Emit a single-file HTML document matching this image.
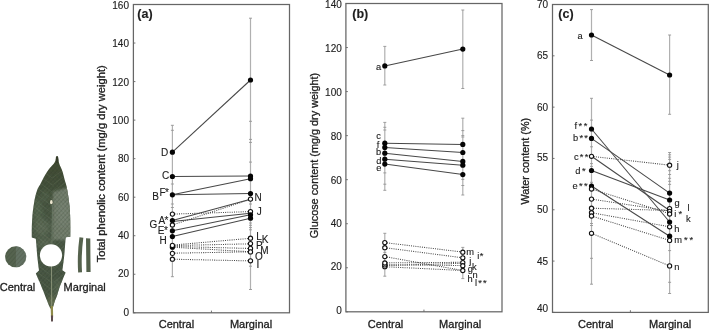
<!DOCTYPE html>
<html><head><meta charset="utf-8"><title>Leaf phenolic, glucose and water content</title>
<style>
html,body{margin:0;padding:0;background:#fff;}
body{width:709px;height:330px;overflow:hidden;position:relative;}
svg{position:absolute;left:0;top:0;display:block;will-change:transform;}
text{font-family:"Liberation Sans", sans-serif;fill:#202020;stroke:#202020;stroke-width:0.12px;}
.ttl{stroke-width:0.3px;}
</style></head><body>
<svg width="709" height="330" viewBox="0 0 709 330" xmlns="http://www.w3.org/2000/svg">
<defs><linearGradient id="lg2" x1="0" y1="0" x2="0" y2="1"><stop offset="0" stop-color="#404930"/><stop offset="0.2" stop-color="#45523c"/><stop offset="0.45" stop-color="#4c5a47"/><stop offset="1" stop-color="#475543"/></linearGradient><pattern id="vein" width="3" height="3" patternUnits="userSpaceOnUse" patternTransform="rotate(42)"><line x1="0.5" y1="0" x2="0.5" y2="3" stroke="#25301f" stroke-width="0.6" stroke-opacity="0.28"/></pattern><pattern id="vein2" width="3" height="3" patternUnits="userSpaceOnUse" patternTransform="rotate(-42)"><line x1="0.5" y1="0" x2="0.5" y2="3" stroke="#25301f" stroke-width="0.6" stroke-opacity="0.2"/></pattern><filter id="bl" x="-50%" y="-50%" width="200%" height="200%"><feGaussianBlur stdDeviation="2.5"/></filter><filter id="bls" x="-50%" y="-50%" width="200%" height="200%"><feGaussianBlur stdDeviation="1.2"/></filter><filter id="bl1" x="-5%" y="-5%" width="110%" height="110%"><feGaussianBlur stdDeviation="0.3"/></filter><clipPath id="leafclip"><path d="M31.8,237.6 C31.80,236.00 31.70,231.60 31.80,228.00 C31.90,224.40 32.10,219.67 32.40,216.00 C32.70,212.33 33.10,209.33 33.60,206.00 C34.10,202.67 34.70,198.92 35.40,196.00 C36.10,193.08 36.95,190.50 37.80,188.50 C38.65,186.50 39.82,185.23 40.50,184.00 C41.18,182.77 41.25,182.38 41.90,181.10 C42.55,179.82 43.50,177.92 44.40,176.30 C45.30,174.68 46.17,173.02 47.30,171.40 C48.43,169.78 49.98,168.10 51.20,166.60 C52.42,165.10 53.87,163.50 54.60,162.40 C55.33,161.30 55.43,160.40 55.60,160.00 L56.2,156.6 C56.6,155.8 57.6,155.8 57.9,156.6 L58.6,160 C58.65,160.40 58.60,161.30 58.90,162.40 C59.20,163.50 59.80,165.10 60.40,166.60 C61.00,168.10 61.93,169.78 62.50,171.40 C63.07,173.02 63.38,174.68 63.80,176.30 C64.22,177.92 64.55,179.48 65.00,181.10 C65.45,182.72 65.98,183.68 66.50,186.00 C67.02,188.32 67.62,191.83 68.10,195.00 C68.58,198.17 69.07,201.67 69.40,205.00 C69.73,208.33 69.95,211.50 70.10,215.00 C70.25,218.50 70.27,222.38 70.30,226.00 C70.33,229.62 70.30,234.92 70.30,236.70 L65.6,237.3 C65.2,244 64.8,250 64.4,254 C63.8,260 63.0,266 62.4,270.2 L65.6,272.4 C65.00,273.88 63.05,278.70 62.00,281.30 C60.95,283.90 60.08,285.77 59.30,288.00 C58.52,290.23 58.05,292.48 57.30,294.70 C56.55,296.92 55.47,299.38 54.80,301.30 C54.13,303.22 53.65,305.00 53.30,306.20 C52.95,307.40 52.80,308.12 52.70,308.50 L50.5,308.5 C50.30,308.12 49.83,307.40 49.30,306.20 C48.77,305.00 48.07,303.22 47.30,301.30 C46.53,299.38 45.58,296.92 44.70,294.70 C43.82,292.48 42.90,290.23 42.00,288.00 C41.10,285.77 40.33,283.73 39.30,281.30 C38.27,278.87 36.38,274.72 35.80,273.40 L39.0,270.6 C38.3,265 37.4,258 36.9,252 C36.6,247 36.2,242 35.8,238.8 Z"/></clipPath></defs>
<g filter="url(#bl1)">
<path d="M31.8,237.6 C31.80,236.00 31.70,231.60 31.80,228.00 C31.90,224.40 32.10,219.67 32.40,216.00 C32.70,212.33 33.10,209.33 33.60,206.00 C34.10,202.67 34.70,198.92 35.40,196.00 C36.10,193.08 36.95,190.50 37.80,188.50 C38.65,186.50 39.82,185.23 40.50,184.00 C41.18,182.77 41.25,182.38 41.90,181.10 C42.55,179.82 43.50,177.92 44.40,176.30 C45.30,174.68 46.17,173.02 47.30,171.40 C48.43,169.78 49.98,168.10 51.20,166.60 C52.42,165.10 53.87,163.50 54.60,162.40 C55.33,161.30 55.43,160.40 55.60,160.00 L56.2,156.6 C56.6,155.8 57.6,155.8 57.9,156.6 L58.6,160 C58.65,160.40 58.60,161.30 58.90,162.40 C59.20,163.50 59.80,165.10 60.40,166.60 C61.00,168.10 61.93,169.78 62.50,171.40 C63.07,173.02 63.38,174.68 63.80,176.30 C64.22,177.92 64.55,179.48 65.00,181.10 C65.45,182.72 65.98,183.68 66.50,186.00 C67.02,188.32 67.62,191.83 68.10,195.00 C68.58,198.17 69.07,201.67 69.40,205.00 C69.73,208.33 69.95,211.50 70.10,215.00 C70.25,218.50 70.27,222.38 70.30,226.00 C70.33,229.62 70.30,234.92 70.30,236.70 L65.6,237.3 C65.2,244 64.8,250 64.4,254 C63.8,260 63.0,266 62.4,270.2 L65.6,272.4 C65.00,273.88 63.05,278.70 62.00,281.30 C60.95,283.90 60.08,285.77 59.30,288.00 C58.52,290.23 58.05,292.48 57.30,294.70 C56.55,296.92 55.47,299.38 54.80,301.30 C54.13,303.22 53.65,305.00 53.30,306.20 C52.95,307.40 52.80,308.12 52.70,308.50 L50.5,308.5 C50.30,308.12 49.83,307.40 49.30,306.20 C48.77,305.00 48.07,303.22 47.30,301.30 C46.53,299.38 45.58,296.92 44.70,294.70 C43.82,292.48 42.90,290.23 42.00,288.00 C41.10,285.77 40.33,283.73 39.30,281.30 C38.27,278.87 36.38,274.72 35.80,273.40 L39.0,270.6 C38.3,265 37.4,258 36.9,252 C36.6,247 36.2,242 35.8,238.8 Z" fill="url(#lg2)"/>
<g clip-path="url(#leafclip)">
<path d="M52.8,192 L72,186 L72,240 L52.3,240 Z" fill="#737e6d" filter="url(#bls)"/>
<ellipse cx="63" cy="214" rx="6" ry="13" fill="#7c8678" opacity="0.6" filter="url(#bl)"/>
<ellipse cx="38" cy="212" rx="4" ry="14" fill="#5f7158" opacity="0.7" filter="url(#bl)"/>
<ellipse cx="42" cy="228" rx="8" ry="9" fill="#66735f" opacity="0.7" filter="url(#bl)"/>
<ellipse cx="45" cy="196" rx="4" ry="6" fill="#5a6b53" opacity="0.6" filter="url(#bl)"/>
<ellipse cx="45" cy="243" rx="9" ry="5" fill="#66735f" opacity="0.7" filter="url(#bl)"/>
<ellipse cx="58" cy="288" rx="5" ry="10" fill="#5b6a55" opacity="0.8" filter="url(#bl)"/>
<ellipse cx="52" cy="302" rx="4" ry="6" fill="#77805a" opacity="0.8" filter="url(#bl)"/>
<rect x="25" y="150" width="60" height="170" fill="url(#vein)"/>
<rect x="25" y="150" width="60" height="170" fill="url(#vein2)"/>
<path d="M52.3,178 L30,162 M52.3,178 L74,162 M52.3,185 L30,169 M52.3,185 L74,169 M52.3,192 L30,176 M52.3,192 L74,176 M52.3,199 L30,183 M52.3,199 L74,183 M52.3,206 L30,190 M52.3,206 L74,190 M52.3,213 L30,197 M52.3,213 L74,197 M52.3,220 L30,204 M52.3,220 L74,204 M52.3,227 L30,211 M52.3,227 L74,211 M52.3,234 L30,218 M52.3,234 L74,218 M52.3,241 L30,225 M52.3,241 L74,225 M52.3,248 L30,232 M52.3,248 L74,232 M52.3,255 L30,239 M52.3,255 L74,239 M52.3,262 L30,246 M52.3,262 L74,246 M52.3,269 L30,253 M52.3,269 L74,253 M52.3,276 L30,260 M52.3,276 L74,260 M52.3,283 L30,267 M52.3,283 L74,267 M52.3,290 L30,274 M52.3,290 L74,274 M52.3,297 L30,281 M52.3,297 L74,281" stroke="#8a9782" stroke-width="0.55" opacity="0.3" fill="none"/>
</g>
<line x1="51.5" y1="266" x2="51.7" y2="307" stroke="#8e977c" stroke-width="0.9"/>
<line x1="52.6" y1="205" x2="51.9" y2="244" stroke="#6f7c69" stroke-width="0.8" opacity="0.8"/>
<path d="M56.0,163 L55.9,157.5 C56.2,156.2 57.8,156.2 58.1,157.5 L58.2,163 Z" fill="#353b2c"/>
<ellipse cx="51.3" cy="202.2" rx="1.3" ry="2.1" fill="#ece6cf"/>
<circle cx="51.0" cy="255.3" r="11.1" fill="#ffffff"/>
<path d="M50.6,306 L52.9,306 L53.1,314 L52.9,321 L51.1,321 L50.9,314 Z" fill="#8f8b4c"/>
<path d="M50.9,315.5 L53.1,315.5 L52.9,321.5 L51.1,321.5 Z" fill="#5b4b4d"/>
<circle cx="15.6" cy="256.8" r="10.5" fill="#55634f"/>
<path d="M15.9,246.3 A10.5,10.5 0 0 1 15.9,267.3 Z" fill="#6a776a" opacity="0.75"/>
<circle cx="15.6" cy="256.8" r="10.5" fill="url(#vein)"/>
<path d="M81.4,237.5 Q79.0,255 80.1,272.4" stroke="#55624d" stroke-width="3.9" fill="none"/>
<path d="M86.0,238.3 L90.3,238.5 L90.4,255 L90.6,272.0 L86.4,272.0 L86.2,255 Z" fill="#52604b"/>
</g>
<text x="-0.2" y="290.7" font-size="11" class="ttl">Central</text>
<text x="63.62" y="290.5" font-size="11" class="ttl">Marginal</text>
<rect x="133.4" y="4.5" width="156.1" height="308.3" fill="none" stroke="#666666" stroke-width="1.25"/>
<line x1="133.4" y1="312.8" x2="135.4" y2="312.8" stroke="#666666" stroke-width="0.9"/>
<text x="129.0" y="315.75" font-size="10" text-anchor="end">0</text>
<line x1="133.4" y1="274.26" x2="135.4" y2="274.26" stroke="#666666" stroke-width="0.9"/>
<text x="129.0" y="277.4" font-size="10" text-anchor="end">20</text>
<line x1="133.4" y1="235.73" x2="135.4" y2="235.73" stroke="#666666" stroke-width="0.9"/>
<text x="129.0" y="239.1" font-size="10" text-anchor="end">40</text>
<line x1="133.4" y1="197.19" x2="135.4" y2="197.19" stroke="#666666" stroke-width="0.9"/>
<text x="129.0" y="200.7" font-size="10" text-anchor="end">60</text>
<line x1="133.4" y1="158.65" x2="135.4" y2="158.65" stroke="#666666" stroke-width="0.9"/>
<text x="129.0" y="162.2" font-size="10" text-anchor="end">80</text>
<line x1="133.4" y1="120.11" x2="135.4" y2="120.11" stroke="#666666" stroke-width="0.9"/>
<text x="129.0" y="124.0" font-size="10" text-anchor="end">100</text>
<line x1="133.4" y1="81.58" x2="135.4" y2="81.58" stroke="#666666" stroke-width="0.9"/>
<text x="129.0" y="85.5" font-size="10" text-anchor="end">120</text>
<line x1="133.4" y1="43.04" x2="135.4" y2="43.04" stroke="#666666" stroke-width="0.9"/>
<text x="129.0" y="46.7" font-size="10" text-anchor="end">140</text>
<line x1="133.4" y1="4.5" x2="135.4" y2="4.5" stroke="#666666" stroke-width="0.9"/>
<text x="129.0" y="9.1" font-size="10" text-anchor="end">160</text>
<line x1="211.45" y1="312.8" x2="211.45" y2="310.6" stroke="#666666" stroke-width="0.9"/>
<rect x="345.9" y="3.5" width="156.1" height="308.3" fill="none" stroke="#666666" stroke-width="1.25"/>
<line x1="345.9" y1="311.8" x2="347.9" y2="311.8" stroke="#666666" stroke-width="0.9"/>
<text x="341.8" y="314.0" font-size="10" text-anchor="end">0</text>
<line x1="345.9" y1="267.76" x2="347.9" y2="267.76" stroke="#666666" stroke-width="0.9"/>
<text x="341.8" y="270.3" font-size="10" text-anchor="end">20</text>
<line x1="345.9" y1="223.71" x2="347.9" y2="223.71" stroke="#666666" stroke-width="0.9"/>
<text x="341.8" y="226.9" font-size="10" text-anchor="end">40</text>
<line x1="345.9" y1="179.67" x2="347.9" y2="179.67" stroke="#666666" stroke-width="0.9"/>
<text x="341.8" y="183.6" font-size="10" text-anchor="end">60</text>
<line x1="345.9" y1="135.63" x2="347.9" y2="135.63" stroke="#666666" stroke-width="0.9"/>
<text x="341.8" y="139.7" font-size="10" text-anchor="end">80</text>
<line x1="345.9" y1="91.59" x2="347.9" y2="91.59" stroke="#666666" stroke-width="0.9"/>
<text x="341.8" y="95.7" font-size="10" text-anchor="end">100</text>
<line x1="345.9" y1="47.54" x2="347.9" y2="47.54" stroke="#666666" stroke-width="0.9"/>
<text x="341.8" y="51.8" font-size="10" text-anchor="end">120</text>
<line x1="345.9" y1="3.5" x2="347.9" y2="3.5" stroke="#666666" stroke-width="0.9"/>
<text x="341.8" y="7.5" font-size="10" text-anchor="end">140</text>
<line x1="423.95" y1="311.8" x2="423.95" y2="309.6" stroke="#666666" stroke-width="0.9"/>
<rect x="552.5" y="4.5" width="155.8" height="307.9" fill="none" stroke="#666666" stroke-width="1.25"/>
<line x1="552.5" y1="312.4" x2="554.5" y2="312.4" stroke="#666666" stroke-width="0.9"/>
<text x="548.1" y="311.9" font-size="10" text-anchor="end">40</text>
<line x1="552.5" y1="261.08" x2="554.5" y2="261.08" stroke="#666666" stroke-width="0.9"/>
<text x="548.1" y="264.9" font-size="10" text-anchor="end">45</text>
<line x1="552.5" y1="209.77" x2="554.5" y2="209.77" stroke="#666666" stroke-width="0.9"/>
<text x="548.1" y="213.1" font-size="10" text-anchor="end">50</text>
<line x1="552.5" y1="158.45" x2="554.5" y2="158.45" stroke="#666666" stroke-width="0.9"/>
<text x="548.1" y="161.1" font-size="10" text-anchor="end">55</text>
<line x1="552.5" y1="107.13" x2="554.5" y2="107.13" stroke="#666666" stroke-width="0.9"/>
<text x="548.1" y="110.5" font-size="10" text-anchor="end">60</text>
<line x1="552.5" y1="55.82" x2="554.5" y2="55.82" stroke="#666666" stroke-width="0.9"/>
<text x="548.1" y="59.3" font-size="10" text-anchor="end">65</text>
<line x1="552.5" y1="4.5" x2="554.5" y2="4.5" stroke="#666666" stroke-width="0.9"/>
<text x="548.1" y="7.9" font-size="10" text-anchor="end">70</text>
<line x1="630.4" y1="312.4" x2="630.4" y2="310.2" stroke="#666666" stroke-width="0.9"/>
<line x1="172.4" y1="125.3" x2="172.4" y2="276.7" stroke="#b0b0b0" stroke-width="1.2"/>
<line x1="170.9" y1="125.3" x2="173.9" y2="125.3" stroke="#959595" stroke-width="0.9"/>
<line x1="170.9" y1="276.7" x2="173.9" y2="276.7" stroke="#959595" stroke-width="0.9"/>
<line x1="170.9" y1="130.3" x2="173.9" y2="130.3" stroke="#959595" stroke-width="0.9"/>
<line x1="170.9" y1="184.0" x2="173.9" y2="184.0" stroke="#959595" stroke-width="0.9"/>
<line x1="170.9" y1="204.0" x2="173.9" y2="204.0" stroke="#959595" stroke-width="0.9"/>
<line x1="170.9" y1="207.5" x2="173.9" y2="207.5" stroke="#959595" stroke-width="0.9"/>
<line x1="250.5" y1="18.2" x2="250.5" y2="289.5" stroke="#b0b0b0" stroke-width="1.2"/>
<line x1="249.0" y1="18.2" x2="252.0" y2="18.2" stroke="#959595" stroke-width="0.9"/>
<line x1="249.0" y1="289.5" x2="252.0" y2="289.5" stroke="#959595" stroke-width="0.9"/>
<line x1="249.0" y1="121.3" x2="252.0" y2="121.3" stroke="#959595" stroke-width="0.9"/>
<line x1="249.0" y1="139.4" x2="252.0" y2="139.4" stroke="#959595" stroke-width="0.9"/>
<line x1="249.0" y1="142.4" x2="252.0" y2="142.4" stroke="#959595" stroke-width="0.9"/>
<line x1="249.0" y1="162.1" x2="252.0" y2="162.1" stroke="#959595" stroke-width="0.9"/>
<line x1="249.0" y1="204.0" x2="252.0" y2="204.0" stroke="#959595" stroke-width="0.9"/>
<line x1="249.0" y1="219.2" x2="252.0" y2="219.2" stroke="#959595" stroke-width="0.9"/>
<line x1="249.0" y1="223.0" x2="252.0" y2="223.0" stroke="#959595" stroke-width="0.9"/>
<line x1="249.0" y1="225.3" x2="252.0" y2="225.3" stroke="#959595" stroke-width="0.9"/>
<line x1="249.0" y1="227.6" x2="252.0" y2="227.6" stroke="#959595" stroke-width="0.9"/>
<line x1="249.0" y1="229.8" x2="252.0" y2="229.8" stroke="#959595" stroke-width="0.9"/>
<line x1="249.0" y1="266.2" x2="252.0" y2="266.2" stroke="#959595" stroke-width="0.9"/>
<line x1="172.4" y1="152.2" x2="250.5" y2="80.0" stroke="#474747" stroke-width="1.05"/>
<line x1="172.4" y1="176.5" x2="250.5" y2="176.0" stroke="#474747" stroke-width="1.05"/>
<line x1="172.4" y1="194.8" x2="250.5" y2="178.7" stroke="#474747" stroke-width="1.05"/>
<line x1="172.4" y1="194.8" x2="250.5" y2="193.6" stroke="#474747" stroke-width="1.05"/>
<line x1="172.4" y1="214.1" x2="250.5" y2="211.6" stroke="#474747" stroke-width="1.05" stroke-dasharray="1 1.2"/>
<line x1="172.4" y1="220.5" x2="250.5" y2="199.3" stroke="#474747" stroke-width="1.05"/>
<line x1="172.4" y1="221.6" x2="250.5" y2="213.2" stroke="#474747" stroke-width="1.05"/>
<line x1="172.4" y1="225.0" x2="250.5" y2="199.3" stroke="#474747" stroke-width="1.05" stroke-dasharray="1 1.2"/>
<line x1="172.4" y1="230.8" x2="250.5" y2="214.8" stroke="#474747" stroke-width="1.05"/>
<line x1="172.4" y1="236.6" x2="250.5" y2="218.3" stroke="#474747" stroke-width="1.05"/>
<line x1="172.4" y1="245.1" x2="250.5" y2="238.3" stroke="#474747" stroke-width="1.05" stroke-dasharray="1 1.2"/>
<line x1="172.4" y1="245.6" x2="250.5" y2="243.8" stroke="#474747" stroke-width="1.05" stroke-dasharray="1 1.2"/>
<line x1="172.4" y1="246.4" x2="250.5" y2="248.5" stroke="#474747" stroke-width="1.05" stroke-dasharray="1 1.2"/>
<line x1="172.4" y1="247.2" x2="250.5" y2="251.8" stroke="#474747" stroke-width="1.05" stroke-dasharray="1 1.2"/>
<line x1="172.4" y1="253.2" x2="250.5" y2="251.8" stroke="#474747" stroke-width="1.05" stroke-dasharray="1 1.2"/>
<line x1="172.4" y1="259.2" x2="250.5" y2="260.9" stroke="#474747" stroke-width="1.05" stroke-dasharray="1 1.2"/>
<circle cx="172.4" cy="152.2" r="2.6" fill="#050505"/>
<circle cx="172.4" cy="176.5" r="2.6" fill="#050505"/>
<circle cx="172.4" cy="194.8" r="2.6" fill="#050505"/>
<circle cx="172.4" cy="214.1" r="2.1" fill="#fff" stroke="#111" stroke-width="1.1"/>
<circle cx="172.4" cy="220.5" r="2.6" fill="#050505"/>
<circle cx="172.4" cy="225.0" r="2.1" fill="#fff" stroke="#111" stroke-width="1.1"/>
<circle cx="172.4" cy="230.8" r="2.6" fill="#050505"/>
<circle cx="172.4" cy="236.6" r="2.6" fill="#050505"/>
<circle cx="172.4" cy="247.2" r="2.6" fill="#050505"/>
<circle cx="172.4" cy="245.4" r="2.1" fill="#fff" stroke="#111" stroke-width="1.1"/>
<circle cx="172.4" cy="253.4" r="2.1" fill="#fff" stroke="#111" stroke-width="1.1"/>
<circle cx="172.4" cy="259.2" r="2.1" fill="#fff" stroke="#111" stroke-width="1.1"/>
<circle cx="250.5" cy="80.0" r="2.6" fill="#050505"/>
<circle cx="250.5" cy="176.0" r="2.6" fill="#050505"/>
<circle cx="250.5" cy="178.7" r="2.6" fill="#050505"/>
<circle cx="250.5" cy="193.6" r="2.6" fill="#050505"/>
<circle cx="250.5" cy="199.1" r="2.1" fill="#fff" stroke="#111" stroke-width="1.1"/>
<circle cx="250.5" cy="211.6" r="2.1" fill="#fff" stroke="#111" stroke-width="1.1"/>
<circle cx="250.5" cy="214.8" r="2.6" fill="#050505"/>
<circle cx="250.5" cy="218.2" r="2.6" fill="#050505"/>
<circle cx="250.5" cy="238.2" r="2.1" fill="#fff" stroke="#111" stroke-width="1.1"/>
<circle cx="250.5" cy="243.6" r="2.1" fill="#fff" stroke="#111" stroke-width="1.1"/>
<circle cx="250.5" cy="248.4" r="2.1" fill="#fff" stroke="#111" stroke-width="1.1"/>
<circle cx="250.5" cy="251.9" r="2.1" fill="#fff" stroke="#111" stroke-width="1.1"/>
<circle cx="250.5" cy="260.8" r="2.1" fill="#fff" stroke="#111" stroke-width="1.1"/>
<text x="161.12" y="155.7" font-size="10">D</text>
<text x="161.9" y="179.1" font-size="10">C</text>
<text x="159.62" y="196.0" font-size="10" letter-spacing="-0.78">F*</text>
<text x="152.32" y="200.0" font-size="10">B</text>
<text x="158.6" y="223.6" font-size="10" letter-spacing="-0.67">A*</text>
<text x="149.5" y="228.2" font-size="10">G</text>
<text x="157.72" y="234.2" font-size="10" letter-spacing="-0.4">E*</text>
<text x="159.62" y="243.7" font-size="10">H</text>
<text x="254.62" y="201.0" font-size="10">N</text>
<text x="256.75" y="214.5" font-size="10">J</text>
<text x="256.23" y="239.7" font-size="10">L</text>
<text x="261.82" y="243.1" font-size="10">K</text>
<text x="255.93" y="249.4" font-size="10">P</text>
<text x="260.23" y="253.6" font-size="10">M</text>
<text x="255.1" y="260.0" font-size="10">O</text>
<text x="256.62" y="267.6" font-size="10">I</text>
<text x="137.28" y="18.05" font-size="12.5" font-weight="bold">(a)</text>
<text class="ttl" transform="translate(105.0,262.3) rotate(-90)" font-size="11" textLength="197" lengthAdjust="spacingAndGlyphs">Total phenolic content (mg/g dry weight)</text>
<text x="158.7" y="327.8" font-size="11" class="ttl">Central</text>
<text x="229.93" y="327.6" font-size="11" class="ttl">Marginal</text>
<line x1="384.8" y1="46.4" x2="384.8" y2="85.0" stroke="#b0b0b0" stroke-width="1.2"/>
<line x1="383.3" y1="46.4" x2="386.3" y2="46.4" stroke="#959595" stroke-width="0.9"/>
<line x1="383.3" y1="85.0" x2="386.3" y2="85.0" stroke="#959595" stroke-width="0.9"/>
<line x1="462.8" y1="10.0" x2="462.8" y2="88.5" stroke="#b0b0b0" stroke-width="1.2"/>
<line x1="461.3" y1="10.0" x2="464.3" y2="10.0" stroke="#959595" stroke-width="0.9"/>
<line x1="461.3" y1="88.5" x2="464.3" y2="88.5" stroke="#959595" stroke-width="0.9"/>
<line x1="384.8" y1="122.4" x2="384.8" y2="190.3" stroke="#b0b0b0" stroke-width="1.2"/>
<line x1="383.3" y1="122.4" x2="386.3" y2="122.4" stroke="#959595" stroke-width="0.9"/>
<line x1="383.3" y1="190.3" x2="386.3" y2="190.3" stroke="#959595" stroke-width="0.9"/>
<line x1="383.3" y1="127.3" x2="386.3" y2="127.3" stroke="#959595" stroke-width="0.9"/>
<line x1="383.3" y1="130.0" x2="386.3" y2="130.0" stroke="#959595" stroke-width="0.9"/>
<line x1="383.3" y1="172.9" x2="386.3" y2="172.9" stroke="#959595" stroke-width="0.9"/>
<line x1="383.3" y1="184.2" x2="386.3" y2="184.2" stroke="#959595" stroke-width="0.9"/>
<line x1="462.8" y1="118.2" x2="462.8" y2="195.0" stroke="#b0b0b0" stroke-width="1.2"/>
<line x1="461.3" y1="118.2" x2="464.3" y2="118.2" stroke="#959595" stroke-width="0.9"/>
<line x1="461.3" y1="195.0" x2="464.3" y2="195.0" stroke="#959595" stroke-width="0.9"/>
<line x1="461.3" y1="130.6" x2="464.3" y2="130.6" stroke="#959595" stroke-width="0.9"/>
<line x1="461.3" y1="135.6" x2="464.3" y2="135.6" stroke="#959595" stroke-width="0.9"/>
<line x1="461.3" y1="137.0" x2="464.3" y2="137.0" stroke="#959595" stroke-width="0.9"/>
<line x1="461.3" y1="179.4" x2="464.3" y2="179.4" stroke="#959595" stroke-width="0.9"/>
<line x1="461.3" y1="185.5" x2="464.3" y2="185.5" stroke="#959595" stroke-width="0.9"/>
<line x1="384.8" y1="233.3" x2="384.8" y2="276.2" stroke="#b0b0b0" stroke-width="1.2"/>
<line x1="383.3" y1="233.3" x2="386.3" y2="233.3" stroke="#959595" stroke-width="0.9"/>
<line x1="383.3" y1="276.2" x2="386.3" y2="276.2" stroke="#959595" stroke-width="0.9"/>
<line x1="383.3" y1="252.4" x2="386.3" y2="252.4" stroke="#959595" stroke-width="0.9"/>
<line x1="462.8" y1="247.4" x2="462.8" y2="278.6" stroke="#b0b0b0" stroke-width="1.2"/>
<line x1="461.3" y1="247.4" x2="464.3" y2="247.4" stroke="#959595" stroke-width="0.9"/>
<line x1="461.3" y1="278.6" x2="464.3" y2="278.6" stroke="#959595" stroke-width="0.9"/>
<line x1="384.8" y1="65.9" x2="462.8" y2="49.1" stroke="#474747" stroke-width="1.05"/>
<line x1="384.8" y1="143.2" x2="462.8" y2="144.4" stroke="#474747" stroke-width="1.05"/>
<line x1="384.8" y1="147.4" x2="462.8" y2="152.5" stroke="#474747" stroke-width="1.05"/>
<line x1="384.8" y1="153.2" x2="462.8" y2="161.4" stroke="#474747" stroke-width="1.05"/>
<line x1="384.8" y1="159.2" x2="462.8" y2="165.2" stroke="#474747" stroke-width="1.05"/>
<line x1="384.8" y1="164.1" x2="462.8" y2="174.6" stroke="#474747" stroke-width="1.05"/>
<line x1="384.8" y1="242.6" x2="462.8" y2="252.1" stroke="#474747" stroke-width="1.05" stroke-dasharray="1 1.2"/>
<line x1="384.8" y1="247.7" x2="462.8" y2="257.8" stroke="#474747" stroke-width="1.05" stroke-dasharray="1 1.2"/>
<line x1="384.8" y1="256.6" x2="462.8" y2="270.5" stroke="#474747" stroke-width="1.05" stroke-dasharray="1 1.2"/>
<line x1="384.8" y1="262.9" x2="462.8" y2="262.3" stroke="#474747" stroke-width="1.05" stroke-dasharray="1 1.2"/>
<line x1="384.8" y1="264.8" x2="462.8" y2="265.5" stroke="#474747" stroke-width="1.05" stroke-dasharray="1 1.2"/>
<line x1="384.8" y1="266.7" x2="462.8" y2="270.5" stroke="#474747" stroke-width="1.05" stroke-dasharray="1 1.2"/>
<line x1="384.8" y1="265.5" x2="462.8" y2="263.3" stroke="#474747" stroke-width="1.05" stroke-dasharray="1 1.2"/>
<circle cx="384.8" cy="65.9" r="2.6" fill="#050505"/>
<circle cx="462.8" cy="49.1" r="2.6" fill="#050505"/>
<circle cx="384.8" cy="143.2" r="2.6" fill="#050505"/>
<circle cx="384.8" cy="147.4" r="2.6" fill="#050505"/>
<circle cx="384.8" cy="153.2" r="2.6" fill="#050505"/>
<circle cx="384.8" cy="159.2" r="2.6" fill="#050505"/>
<circle cx="384.8" cy="164.1" r="2.6" fill="#050505"/>
<circle cx="462.8" cy="144.4" r="2.6" fill="#050505"/>
<circle cx="462.8" cy="152.5" r="2.6" fill="#050505"/>
<circle cx="462.8" cy="161.4" r="2.6" fill="#050505"/>
<circle cx="462.8" cy="165.2" r="2.6" fill="#050505"/>
<circle cx="462.8" cy="174.6" r="2.6" fill="#050505"/>
<circle cx="384.8" cy="242.6" r="2.1" fill="#fff" stroke="#111" stroke-width="1.1"/>
<circle cx="384.8" cy="247.7" r="2.1" fill="#fff" stroke="#111" stroke-width="1.1"/>
<circle cx="384.8" cy="256.6" r="2.1" fill="#fff" stroke="#111" stroke-width="1.1"/>
<circle cx="384.8" cy="266.7" r="2.1" fill="#fff" stroke="#111" stroke-width="1.1"/>
<circle cx="384.8" cy="264.9" r="2.1" fill="#fff" stroke="#111" stroke-width="1.1"/>
<circle cx="384.8" cy="263.0" r="2.1" fill="#fff" stroke="#111" stroke-width="1.1"/>
<circle cx="462.8" cy="252.2" r="2.1" fill="#fff" stroke="#111" stroke-width="1.1"/>
<circle cx="462.8" cy="257.8" r="2.1" fill="#fff" stroke="#111" stroke-width="1.1"/>
<circle cx="462.8" cy="262.6" r="2.1" fill="#fff" stroke="#111" stroke-width="1.1"/>
<circle cx="462.8" cy="265.7" r="2.1" fill="#fff" stroke="#111" stroke-width="1.1"/>
<circle cx="462.8" cy="270.5" r="2.1" fill="#fff" stroke="#111" stroke-width="1.1"/>
<text x="375.95" y="69.9" font-size="9.3">a</text>
<text x="376.15" y="138.9" font-size="9.3">c</text>
<text x="376.68" y="147.7" font-size="9.3">f</text>
<text x="376.12" y="155.2" font-size="9.3">b</text>
<text x="376.35" y="164.1" font-size="9.3">d</text>
<text x="376.35" y="170.7" font-size="9.3">e</text>
<text x="466.32" y="255.2" font-size="9.3">m</text>
<text x="477.22" y="259.3" font-size="9.3" letter-spacing="0.52">i*</text>
<text x="469.13" y="263.6" font-size="9.3">j</text>
<text x="472.12" y="269.6" font-size="9.3">k</text>
<text x="467.85" y="272.2" font-size="9.3">g</text>
<text x="472.42" y="277.7" font-size="9.3">n</text>
<text x="467.5" y="281.8" font-size="9.3">h</text>
<text x="475.12" y="286.0" font-size="9.3" letter-spacing="1.15">l**</text>
<text x="352.27" y="18.05" font-size="12.5" font-weight="bold">(b)</text>
<text class="ttl" transform="translate(318.1,238.2) rotate(-90)" font-size="11" textLength="165.4" lengthAdjust="spacingAndGlyphs">Glucose content (mg/g dry weight)</text>
<text x="367.8" y="327.8" font-size="11" class="ttl">Central</text>
<text x="439.12" y="327.6" font-size="11" class="ttl">Marginal</text>
<line x1="591.5" y1="9.6" x2="591.5" y2="60.5" stroke="#b0b0b0" stroke-width="1.2"/>
<line x1="590.0" y1="9.6" x2="593.0" y2="9.6" stroke="#959595" stroke-width="0.9"/>
<line x1="590.0" y1="60.5" x2="593.0" y2="60.5" stroke="#959595" stroke-width="0.9"/>
<line x1="669.6" y1="35.0" x2="669.6" y2="114.3" stroke="#b0b0b0" stroke-width="1.2"/>
<line x1="668.1" y1="35.0" x2="671.1" y2="35.0" stroke="#959595" stroke-width="0.9"/>
<line x1="668.1" y1="114.3" x2="671.1" y2="114.3" stroke="#959595" stroke-width="0.9"/>
<line x1="591.5" y1="98.3" x2="591.5" y2="284.2" stroke="#b0b0b0" stroke-width="1.2"/>
<line x1="590.0" y1="98.3" x2="593.0" y2="98.3" stroke="#959595" stroke-width="0.9"/>
<line x1="590.0" y1="284.2" x2="593.0" y2="284.2" stroke="#959595" stroke-width="0.9"/>
<line x1="590.0" y1="120.1" x2="593.0" y2="120.1" stroke="#959595" stroke-width="0.9"/>
<line x1="590.0" y1="146.8" x2="593.0" y2="146.8" stroke="#959595" stroke-width="0.9"/>
<line x1="590.0" y1="163.6" x2="593.0" y2="163.6" stroke="#959595" stroke-width="0.9"/>
<line x1="590.0" y1="166.4" x2="593.0" y2="166.4" stroke="#959595" stroke-width="0.9"/>
<line x1="590.0" y1="182.3" x2="593.0" y2="182.3" stroke="#959595" stroke-width="0.9"/>
<line x1="590.0" y1="223.5" x2="593.0" y2="223.5" stroke="#959595" stroke-width="0.9"/>
<line x1="590.0" y1="225.5" x2="593.0" y2="225.5" stroke="#959595" stroke-width="0.9"/>
<line x1="590.0" y1="258.3" x2="593.0" y2="258.3" stroke="#959595" stroke-width="0.9"/>
<line x1="669.6" y1="152.5" x2="669.6" y2="293.5" stroke="#b0b0b0" stroke-width="1.2"/>
<line x1="668.1" y1="152.5" x2="671.1" y2="152.5" stroke="#959595" stroke-width="0.9"/>
<line x1="668.1" y1="293.5" x2="671.1" y2="293.5" stroke="#959595" stroke-width="0.9"/>
<line x1="668.1" y1="154.8" x2="671.1" y2="154.8" stroke="#959595" stroke-width="0.9"/>
<line x1="668.1" y1="157.1" x2="671.1" y2="157.1" stroke="#959595" stroke-width="0.9"/>
<line x1="668.1" y1="159.4" x2="671.1" y2="159.4" stroke="#959595" stroke-width="0.9"/>
<line x1="668.1" y1="170.7" x2="671.1" y2="170.7" stroke="#959595" stroke-width="0.9"/>
<line x1="668.1" y1="174.5" x2="671.1" y2="174.5" stroke="#959595" stroke-width="0.9"/>
<line x1="668.1" y1="178.3" x2="671.1" y2="178.3" stroke="#959595" stroke-width="0.9"/>
<line x1="668.1" y1="181.3" x2="671.1" y2="181.3" stroke="#959595" stroke-width="0.9"/>
<line x1="668.1" y1="184.4" x2="671.1" y2="184.4" stroke="#959595" stroke-width="0.9"/>
<line x1="668.1" y1="250.6" x2="671.1" y2="250.6" stroke="#959595" stroke-width="0.9"/>
<line x1="668.1" y1="282.3" x2="671.1" y2="282.3" stroke="#959595" stroke-width="0.9"/>
<line x1="591.5" y1="35.0" x2="669.6" y2="75.0" stroke="#474747" stroke-width="1.05"/>
<line x1="591.5" y1="129.0" x2="669.6" y2="222.0" stroke="#474747" stroke-width="1.05"/>
<line x1="591.5" y1="138.4" x2="669.6" y2="193.1" stroke="#474747" stroke-width="1.05"/>
<line x1="591.5" y1="156.3" x2="669.6" y2="210.5" stroke="#474747" stroke-width="1.05"/>
<line x1="591.5" y1="170.5" x2="669.6" y2="200.0" stroke="#474747" stroke-width="1.05"/>
<line x1="591.5" y1="186.0" x2="669.6" y2="236.2" stroke="#474747" stroke-width="1.05"/>
<line x1="591.5" y1="156.3" x2="669.6" y2="165.2" stroke="#474747" stroke-width="1.05" stroke-dasharray="1 1.2"/>
<line x1="591.5" y1="189.0" x2="669.6" y2="213.6" stroke="#474747" stroke-width="1.05" stroke-dasharray="1 1.2"/>
<line x1="591.5" y1="199.1" x2="669.6" y2="211.0" stroke="#474747" stroke-width="1.05" stroke-dasharray="1 1.2"/>
<line x1="591.5" y1="208.2" x2="669.6" y2="210.5" stroke="#474747" stroke-width="1.05" stroke-dasharray="1 1.2"/>
<line x1="591.5" y1="212.7" x2="669.6" y2="226.8" stroke="#474747" stroke-width="1.05" stroke-dasharray="1 1.2"/>
<line x1="591.5" y1="216.0" x2="669.6" y2="240.4" stroke="#474747" stroke-width="1.05" stroke-dasharray="1 1.2"/>
<line x1="591.5" y1="233.3" x2="669.6" y2="265.9" stroke="#474747" stroke-width="1.05" stroke-dasharray="1 1.2"/>
<circle cx="591.5" cy="35.0" r="2.6" fill="#050505"/>
<circle cx="669.6" cy="75.0" r="2.6" fill="#050505"/>
<circle cx="591.5" cy="129.0" r="2.6" fill="#050505"/>
<circle cx="591.5" cy="138.4" r="2.6" fill="#050505"/>
<circle cx="591.5" cy="170.5" r="2.6" fill="#050505"/>
<circle cx="591.5" cy="186.0" r="2.6" fill="#050505"/>
<circle cx="591.5" cy="156.3" r="2.1" fill="#fff" stroke="#111" stroke-width="1.1"/>
<circle cx="591.5" cy="189.0" r="2.1" fill="#fff" stroke="#111" stroke-width="1.1"/>
<circle cx="591.5" cy="199.1" r="2.1" fill="#fff" stroke="#111" stroke-width="1.1"/>
<circle cx="591.5" cy="208.2" r="2.1" fill="#fff" stroke="#111" stroke-width="1.1"/>
<circle cx="591.5" cy="212.7" r="2.1" fill="#fff" stroke="#111" stroke-width="1.1"/>
<circle cx="591.5" cy="216.0" r="2.1" fill="#fff" stroke="#111" stroke-width="1.1"/>
<circle cx="591.5" cy="233.3" r="2.1" fill="#fff" stroke="#111" stroke-width="1.1"/>
<circle cx="669.6" cy="193.1" r="2.6" fill="#050505"/>
<circle cx="669.6" cy="200.0" r="2.6" fill="#050505"/>
<circle cx="669.6" cy="222.0" r="2.6" fill="#050505"/>
<circle cx="669.6" cy="236.2" r="2.6" fill="#050505"/>
<circle cx="669.6" cy="210.5" r="2.6" fill="#050505"/>
<circle cx="669.6" cy="165.2" r="2.1" fill="#fff" stroke="#111" stroke-width="1.1"/>
<circle cx="669.6" cy="208.6" r="2.1" fill="#fff" stroke="#111" stroke-width="1.1"/>
<circle cx="669.6" cy="211.4" r="2.1" fill="#fff" stroke="#111" stroke-width="1.1"/>
<circle cx="669.6" cy="214.0" r="2.1" fill="#fff" stroke="#111" stroke-width="1.1"/>
<circle cx="669.6" cy="226.8" r="2.1" fill="#fff" stroke="#111" stroke-width="1.1"/>
<circle cx="669.6" cy="240.4" r="2.1" fill="#fff" stroke="#111" stroke-width="1.1"/>
<circle cx="669.6" cy="265.9" r="2.1" fill="#fff" stroke="#111" stroke-width="1.1"/>
<text x="577.55" y="39.1" font-size="9.3">a</text>
<text x="574.38" y="129.1" font-size="9.3" letter-spacing="1.58">f**</text>
<text x="573.12" y="140.5" font-size="9.3" letter-spacing="1.14">b**</text>
<text x="573.95" y="159.8" font-size="9.3" letter-spacing="1.25">c**</text>
<text x="575.35" y="173.8" font-size="9.3" letter-spacing="1.45">d*</text>
<text x="572.55" y="189.1" font-size="9.3" letter-spacing="1.37">e**</text>
<text x="676.63" y="167.6" font-size="9.3">j</text>
<text x="674.55" y="205.9" font-size="9.3">g</text>
<text x="687.52" y="211.1" font-size="9.3">l</text>
<text x="674.32" y="216.7" font-size="9.3" letter-spacing="2.0">i*</text>
<text x="685.92" y="221.5" font-size="9.3">k</text>
<text x="674.2" y="232.0" font-size="9.3">h</text>
<text x="674.32" y="243.2" font-size="9.3" letter-spacing="1.91">m**</text>
<text x="674.32" y="269.5" font-size="9.3">n</text>
<text x="558.27" y="18.2" font-size="12.5" font-weight="bold">(c)</text>
<text class="ttl" transform="translate(528.5,204.5) rotate(-90)" font-size="11" textLength="86.6" lengthAdjust="spacingAndGlyphs">Water content (%)</text>
<text x="578.0" y="327.8" font-size="11" class="ttl">Central</text>
<text x="649.02" y="327.6" font-size="11" class="ttl">Marginal</text>
</svg>
</body></html>
